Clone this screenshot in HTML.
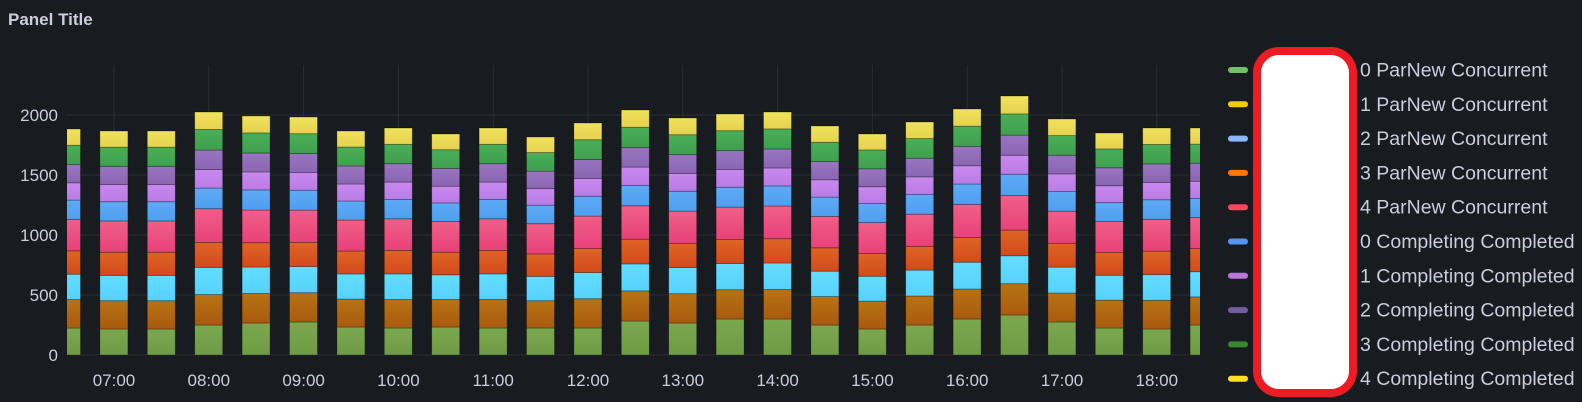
<!DOCTYPE html>
<html><head><meta charset="utf-8"><style>
html,body{margin:0;padding:0;background:#181b1f;width:1582px;height:402px;overflow:hidden;font-family:"Liberation Sans",sans-serif}
</style></head><body>
<svg id="s" width="1582" height="402" xmlns="http://www.w3.org/2000/svg" style="position:absolute;left:0;top:0">
<text x="8" y="25" fill="#ccccdc" font-size="17" font-weight="bold" font-family="Liberation Sans, sans-serif">Panel Title</text>
</svg>
<script>
const s=document.getElementById('s');const NS='http://www.w3.org/2000/svg';
function el(t,a,txt){const e=document.createElementNS(NS,t);for(const k in a)e.setAttribute(k,a[k]);if(txt!=null)e.textContent=txt;s.appendChild(e);return e;}
const y0=355,L=67,R=1200;
let defs=el('defs',{});
const cp=el('clipPath',{id:'c'});const cr=document.createElementNS(NS,'rect');
cr.setAttribute('x',L);cr.setAttribute('y',0);cr.setAttribute('width',R-L);cr.setAttribute('height',402);cp.appendChild(cr);
for(let v=0;v<=2000;v+=500){const y=y0-v*0.12;el('line',{x1:L,x2:R,y1:y,y2:y,stroke:'#2a2d33','stroke-width':1});
el('text',{x:58,y:y+6,fill:'#ccccdc','font-size':'17','text-anchor':'end'},String(v));}
const labels=['07:00','08:00','09:00','10:00','11:00','12:00','13:00','14:00','15:00','16:00','17:00','18:00'];
labels.forEach((t,i)=>{const x=114+i*94.8;el('line',{x1:x,x2:x,y1:65,y2:y0,stroke:'#2a2d33'});
el('text',{x:x,y:386,fill:'#ccccdc','font-size':'17','text-anchor':'middle'},t);});
const cols=[['#7aa84e','#6f9a45'],['#b87314','#a85a0e'],['#64dcff','#56d2fb'],['#de6424','#d44a1c'],['#f05f88','#e8417a'],['#5eaaf5','#4e9ff0'],['#c889ee','#b97ce6'],['#9a74c0','#8a66b2'],['#4aae58','#3f9f4e'],['#f0e25e','#e6d24e']];
cols.forEach((c,i)=>{const g=document.createElementNS(NS,'linearGradient');g.setAttribute('id','g'+i);g.setAttribute('x1',0);g.setAttribute('y1',0);g.setAttribute('x2',0);g.setAttribute('y2',1);defs.appendChild(g);
const a=document.createElementNS(NS,'stop');a.setAttribute('offset','0');a.setAttribute('stop-color',c[0]);g.appendChild(a);
const b=document.createElementNS(NS,'stop');b.setAttribute('offset','1');b.setAttribute('stop-color',c[1]);g.appendChild(b);});
const tops=[129,131,131,112,116,117,131,128,134,128,137,123,110,118,114,112,126,134,122,109,96,119,133,128,128];
const gt=[328,329,329,325,323,322,327,328,327,328,328,328,321,323,319,319,325,329,325,319,315,322,328,329,325];
const base=[28,25,23,31,19,17,18,19,16];
const bs=base.reduce((a,b)=>a+b,0);
const grp=el('g',{'clip-path':'url(#c)'});
tops.forEach((t,i)=>{const cx=66.5+i*47.4;const x=cx-14;let y=y0;
const hs=[y0-gt[i]];const rest=gt[i]-t;base.forEach(b=>hs.push(b*rest/bs));
hs.forEach((h,k)=>{const r=document.createElementNS(NS,'rect');r.setAttribute('x',x);r.setAttribute('y',y-h);r.setAttribute('width',28);r.setAttribute('height',h);
r.setAttribute('fill','url(#g'+k+')');r.setAttribute('stroke','rgba(0,0,0,0.35)');r.setAttribute('stroke-width','0.8');grp.appendChild(r);y-=h;});});
const lc=['#73bf69','#f2cc0c','#8ab8ff','#ff780a','#f2495c','#5794f2','#b877d9','#705da0','#37872d','#fade2a'];
const ln=['0 ParNew Concurrent','1 ParNew Concurrent','2 ParNew Concurrent','3 ParNew Concurrent','4 ParNew Concurrent','0 Completing Completed','1 Completing Completed','2 Completing Completed','3 Completing Completed','4 Completing Completed'];
el('rect',{x:1257,y:51,width:96,height:342,rx:22,fill:'#fff',stroke:'#ec1c24','stroke-width':8});
lc.forEach((c,i)=>{const y=70+i*34.3;el('rect',{x:1228,y:y-3,width:20,height:6,rx:3,fill:c});
el('text',{x:1360,y:y+6.5,fill:'#ccccdc','font-size':'19.5'},ln[i]);});
</script>
</body></html>
